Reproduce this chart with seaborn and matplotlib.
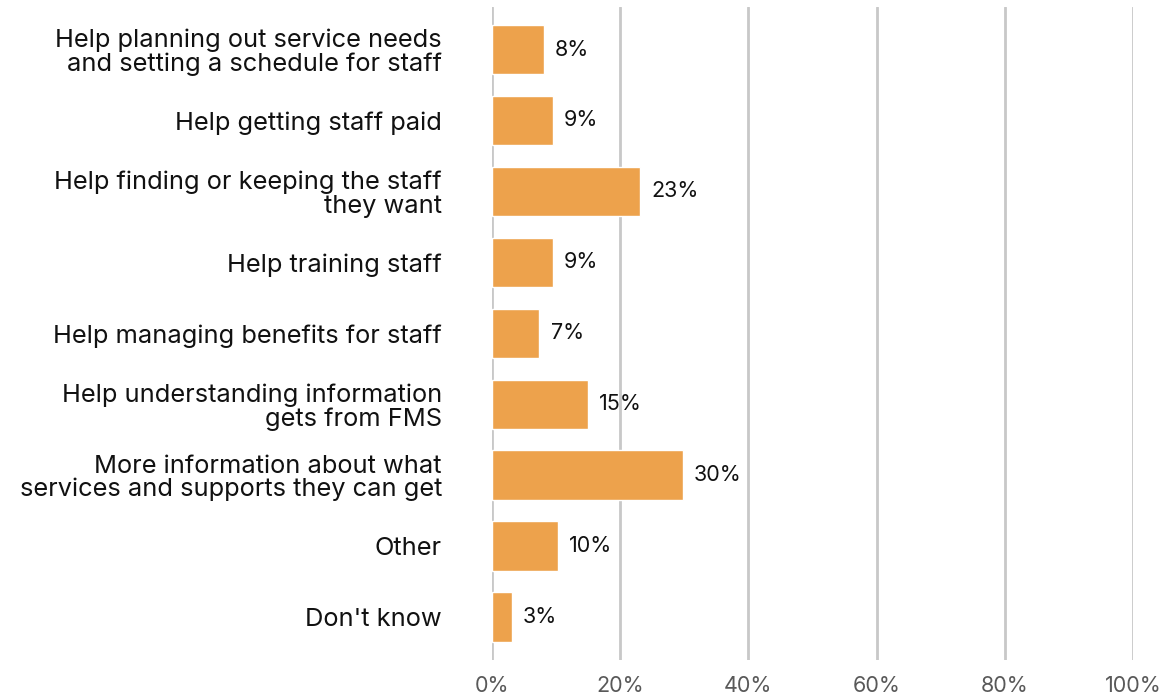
import matplotlib
matplotlib.use("Agg")
import matplotlib.pyplot as plt
import seaborn as sns
import pandas as pd

categories = [
    "Help planning out service needs\nand setting a schedule for staff",
    "Help getting staff paid",
    "Help finding or keeping the staff\nthey want",
    "Help training staff",
    "Help managing benefits for staff",
    "Help understanding information\ngets from FMS",
    "More information about what\nservices and supports they can get",
    "Other",
    "Don't know",
]
values = [8.1, 9.5, 23.1, 9.5, 7.4, 15.0, 29.8, 10.3, 3.1]
value_labels = ["8%", "9%", "23%", "9%", "7%", "15%", "30%", "10%", "3%"]
x_ticks = [0, 20, 40, 60, 80, 100]

df = pd.DataFrame({"category": categories, "value": values})

sns.set_style("white")
plt.rcParams["font.family"] = ["Inter", "DejaVu Sans"]

fig = plt.figure(figsize=(11.68, 6.96), dpi=100)
ax = fig.add_axes([0.4212, 0.052, 0.5488, 0.938])

sns.barplot(data=df, x="value", y="category", color="#EDA24C", width=0.7,
            saturation=1, ax=ax, zorder=3)

for i, (v, lab) in enumerate(zip(values, value_labels)):
    ax.annotate(lab, (v, i), xytext=(8, 0), textcoords="offset points",
                va="center", ha="left", fontsize=15.5, color="#111111")

ax.set_xlim(0, 100)
ax.set_ylim(8.6, -0.6)
ax.set_xticks(x_ticks)
ax.set_xticklabels([f"{t}%" for t in x_ticks], fontsize=15.5, color="#595959")
ax.tick_params(axis="y", labelsize=18.3, colors="#111111", pad=36, length=0)
ax.tick_params(axis="x", length=0, pad=12)
for lab in ax.get_yticklabels():
    lab.set_horizontalalignment("right")
    lab.set_multialignment("right")
    lab.set_linespacing(1.02)
ax.xaxis.grid(True, color="#C8C8C8", linewidth=2)
ax.set_axisbelow(True)
ax.set_xlabel("")
ax.set_ylabel("")
for s in ax.spines.values():
    s.set_visible(False)

fig.savefig("out.png", dpi=100)
